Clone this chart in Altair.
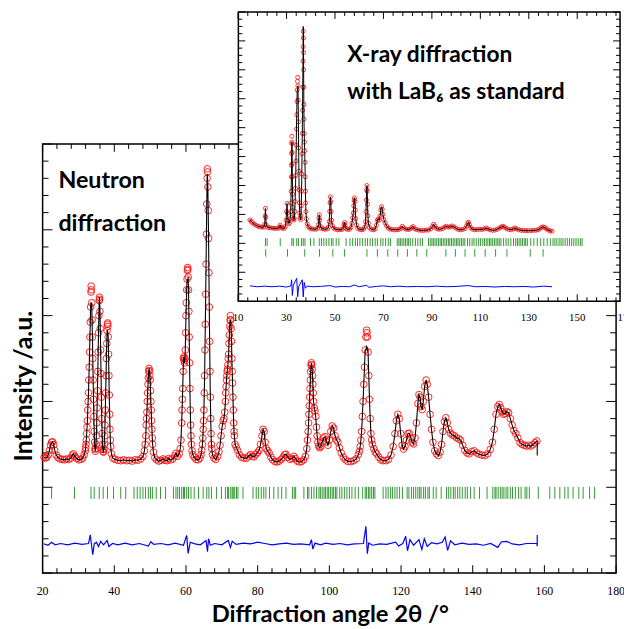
import altair as alt
import pandas as pd

# ---------------- Neutron diffraction (main panel) ----------------
neutron_obs = [
    (20.4, 27.0), (20.8, 26.8), (21.2, 27.0), (21.6, 27.6), (21.9, 28.6), (22.2, 29.8), (22.5, 30.5), (22.8, 30.6),
    (23.1, 29.9), (23.4, 28.6), (23.8, 27.5), (24.3, 26.9), (24.9, 26.6), (25.5, 26.5), (26.1, 26.4), (26.7, 26.6),
    (27.3, 26.5), (27.9, 26.8), (28.3, 27.5), (28.6, 27.8), (29.0, 27.2), (29.5, 26.7), (30.1, 26.4), (30.7, 26.5),
    (31.2, 26.8), (31.6, 27.6), (31.9, 28.5), (32.0, 29.2), (32.1, 30.0), (32.2, 31.0), (32.3, 32.5), (32.4, 34.0),
    (32.5, 35.5), (32.6, 38.0), (32.7, 40.0), (32.8, 42.0), (32.9, 45.0), (33.0, 48.0), (33.1, 51.5), (33.2, 55.0),
    (33.3, 58.5), (33.4, 62.0), (33.5, 65.5), (33.55, 66.9), (33.6, 66.0), (33.7, 63.0), (33.8, 59.0), (33.9, 55.0),
    (34.0, 50.0), (34.1, 45.0), (34.2, 40.5), (34.3, 36.5), (34.4, 33.0), (34.5, 30.5), (34.6, 29.0), (34.7, 28.4),
    (34.8, 28.9), (34.9, 30.0), (35.0, 32.0), (35.1, 35.0), (35.2, 38.5), (35.3, 42.5), (35.4, 47.0), (35.5, 51.5),
    (35.6, 56.0), (35.7, 60.0), (35.8, 63.5), (35.85, 64.3), (35.9, 63.8), (36.0, 61.0), (36.1, 57.0), (36.2, 52.0),
    (36.3, 46.5), (36.4, 41.0), (36.5, 36.0), (36.6, 32.5), (36.7, 30.0), (36.8, 28.8), (36.9, 28.3), (37.0, 28.2),
    (37.1, 28.8), (37.2, 30.0), (37.3, 32.0), (37.4, 34.5), (37.5, 38.0), (37.6, 42.0), (37.7, 46.0), (37.8, 50.0),
    (37.9, 53.5), (38.0, 56.5), (38.1, 58.0), (38.15, 58.3), (38.2, 57.5), (38.3, 55.0), (38.4, 51.0), (38.5, 46.0),
    (38.6, 41.5), (38.7, 37.0), (38.8, 33.5), (38.9, 31.0), (39.0, 29.5), (39.2, 27.8), (39.6, 26.8), (40.2, 26.5),
    (41.0, 26.3), (41.8, 26.2), (42.6, 26.4), (43.4, 26.2), (44.2, 26.3), (45.0, 26.1), (45.8, 26.4), (46.6, 26.3),
    (47.4, 26.6), (48.0, 27.2), (48.4, 28.5), (48.6, 30.0), (48.8, 32.0), (48.9, 34.5), (49.0, 36.0), (49.1, 37.5),
    (49.2, 40.0), (49.3, 42.0), (49.4, 44.0), (49.5, 45.5), (49.6, 47.0), (49.7, 47.7), (49.8, 47.2), (49.9, 46.0),
    (50.0, 45.0), (50.1, 42.5), (50.2, 40.0), (50.3, 38.0), (50.4, 35.5), (50.5, 33.5), (50.6, 31.5), (50.7, 30.0),
    (50.9, 28.2), (51.3, 26.9), (51.8, 26.4), (52.4, 26.1), (53.0, 26.3), (53.6, 26.6), (54.1, 26.3), (54.7, 26.2),
    (55.2, 26.7), (55.7, 26.4), (56.3, 26.6), (56.8, 27.3), (57.2, 27.9), (57.6, 27.2), (58.1, 27.8), (58.4, 29.0),
    (58.6, 31.0), (58.8, 35.0), (58.9, 38.0), (59.0, 40.5), (59.1, 43.0), (59.2, 47.0), (59.3, 50.0), (59.4, 50.4),
    (59.5, 49.5), (59.6, 49.0), (59.7, 50.0), (59.8, 52.0), (59.9, 56.0), (60.0, 60.0), (60.1, 63.0), (60.2, 66.0),
    (60.3, 68.5), (60.4, 70.5), (60.45, 71.2), (60.5, 70.8), (60.6, 69.0), (60.7, 66.0), (60.8, 61.0), (60.9, 55.0),
    (61.0, 49.0), (61.1, 43.0), (61.2, 38.0), (61.3, 34.5), (61.4, 32.0), (61.5, 30.0), (61.7, 28.5), (61.9, 27.6),
    (62.3, 27.0), (62.8, 26.5), (63.4, 26.4), (63.9, 26.8), (64.2, 27.6), (64.4, 28.6), (64.6, 30.0), (64.7, 31.5),
    (64.8, 33.5), (64.9, 35.5), (65.0, 38.0), (65.1, 42.0), (65.2, 46.0), (65.3, 52.0), (65.4, 58.0), (65.5, 65.0),
    (65.6, 72.0), (65.7, 79.0), (65.8, 86.0), (65.9, 92.0), (65.95, 94.2), (66.0, 93.5), (66.1, 90.0), (66.2, 84.5),
    (66.3, 78.0), (66.4, 70.0), (66.5, 62.0), (66.6, 54.0), (66.7, 47.0), (66.8, 41.0), (66.9, 36.0), (67.0, 32.5),
    (67.1, 30.0), (67.2, 29.0), (67.4, 27.6), (67.8, 26.8), (68.3, 26.5), (68.8, 27.2), (69.2, 28.3), (69.5, 29.8),
    (69.8, 32.0), (70.1, 34.2), (70.4, 35.5), (70.6, 36.0), (70.8, 37.5), (71.0, 40.0), (71.1, 42.0), (71.2, 43.5),
    (71.3, 45.0), (71.4, 46.0), (71.5, 47.0), (71.6, 47.5), (71.7, 48.5), (71.8, 50.0), (71.9, 51.0), (72.0, 53.5),
    (72.1, 55.5), (72.2, 57.5), (72.3, 59.0), (72.4, 60.0), (72.5, 59.0), (72.6, 57.0), (72.7, 54.0), (72.8, 50.0),
    (72.9, 47.0), (73.0, 44.3), (73.1, 41.0), (73.2, 38.0), (73.3, 35.0), (73.4, 33.0), (73.5, 32.0), (73.7, 30.0),
    (74.0, 29.4), (74.4, 28.6), (74.9, 27.6), (75.5, 27.0), (76.2, 26.8), (76.9, 26.8), (77.5, 27.3), (78.0, 27.6),
    (78.5, 27.2), (79.0, 27.1), (79.5, 27.7), (80.0, 28.1), (80.4, 28.6), (80.8, 30.0), (81.2, 32.0), (81.5, 33.5),
    (81.8, 33.0), (82.1, 30.5), (82.4, 29.0), (82.8, 28.5), (83.2, 28.0), (83.7, 27.0), (84.2, 26.4), (84.8, 26.0),
    (85.4, 25.9), (86.0, 26.1), (86.6, 26.5), (87.1, 27.0), (87.5, 27.6), (87.9, 27.7), (88.4, 27.0), (89.0, 26.5),
    (89.6, 26.7), (90.1, 27.2), (90.5, 26.7), (91.0, 26.1), (91.6, 25.9), (92.2, 26.0), (92.8, 26.4), (93.3, 27.2),
    (93.7, 29.0), (93.9, 31.0), (94.1, 33.0), (94.2, 35.0), (94.3, 37.0), (94.4, 39.0), (94.5, 41.0), (94.6, 43.0),
    (94.7, 45.0), (94.8, 47.0), (94.9, 48.5), (95.0, 49.0), (95.1, 48.5), (95.2, 47.5), (95.3, 46.0), (95.4, 44.0),
    (95.5, 42.0), (95.6, 40.0), (95.8, 38.5), (96.0, 37.8), (96.2, 36.5), (96.4, 34.0), (96.6, 32.0), (96.8, 30.5),
    (97.0, 29.6), (97.3, 29.2), (97.6, 29.5), (98.0, 30.5), (98.4, 31.5), (98.8, 31.8), (99.2, 30.6), (99.6, 29.8),
    (100.0, 31.0), (100.4, 33.0), (100.8, 34.3), (101.2, 33.8), (101.6, 32.0), (102.0, 31.0), (102.4, 30.5), (102.8, 29.2),
    (103.3, 28.0), (103.9, 27.0), (104.5, 26.4), (105.2, 26.0), (106.0, 26.0), (106.8, 26.2), (107.5, 26.6), (108.1, 27.6),
    (108.4, 28.4), (108.6, 29.5), (108.8, 31.0), (109.0, 33.0), (109.2, 36.5), (109.4, 40.0), (109.6, 44.0), (109.8, 48.0),
    (110.0, 52.0), (110.2, 55.0), (110.4, 56.6), (110.5, 56.0), (110.6, 55.0), (110.8, 51.5), (111.0, 46.0), (111.2, 40.5),
    (111.4, 36.0), (111.6, 32.5), (111.8, 31.0), (112.0, 30.0), (112.4, 29.0), (112.8, 28.2), (113.2, 27.8), (113.8, 27.0),
    (114.4, 26.4), (115.0, 26.2), (115.8, 26.2), (116.5, 26.5), (117.2, 27.5), (117.8, 29.5), (118.3, 32.5), (118.7, 35.5),
    (119.1, 37.0), (119.5, 36.0), (119.9, 32.5), (120.3, 29.8), (120.7, 28.9), (121.1, 29.5), (121.5, 31.0), (121.9, 32.5),
    (122.3, 32.6), (122.7, 31.5), (123.1, 30.4), (123.5, 30.1), (123.9, 31.5), (124.3, 35.0), (124.7, 39.5), (125.0, 41.6),
    (125.3, 41.0), (125.6, 38.8), (125.9, 38.1), (126.2, 40.0), (126.6, 43.5), (127.0, 45.0), (127.3, 44.0), (127.7, 41.0),
    (128.1, 37.0), (128.5, 33.5), (128.9, 30.5), (129.4, 28.5), (129.9, 27.8), (130.4, 27.4), (130.9, 28.2), (131.3, 30.0),
    (131.7, 33.0), (132.1, 35.3), (132.5, 36.2), (132.9, 35.0), (133.3, 33.5), (133.8, 32.6), (134.3, 32.2), (134.9, 32.0),
    (135.5, 31.5), (136.1, 31.3), (136.6, 31.0), (137.2, 29.8), (137.8, 28.6), (138.4, 28.0), (139.0, 27.8), (139.7, 28.3),
    (140.4, 28.5), (141.1, 28.0), (141.8, 27.7), (142.6, 27.5), (143.4, 27.4), (144.2, 27.8), (144.9, 28.8), (145.5, 30.5),
    (146.0, 33.5), (146.5, 37.0), (147.0, 38.8), (147.4, 39.3), (147.8, 38.5), (148.2, 37.6), (148.6, 37.0), (149.0, 37.2),
    (149.5, 37.6), (150.0, 37.4), (150.5, 36.0), (151.0, 34.5), (151.5, 33.2), (152.0, 32.5), (152.6, 31.5), (153.2, 30.4),
    (153.8, 30.0), (154.4, 29.8), (155.0, 29.6), (155.6, 29.8), (156.2, 29.6), (156.8, 29.9), (157.4, 30.4), (157.9, 30.8),
]
# calculated profile where it departs from the observed points (peak tops)
neutron_calc_peaks = {33.5: 63.0, 33.55: 63.1, 33.6: 62.5, 38.1: 56.5, 38.15: 56.6, 38.2: 56.0,
                      60.4: 68.0, 60.45: 68.5, 60.5: 68.2, 65.95: 93.0, 66.0: 92.8, 72.4: 59.0,
                      110.2: 52.0, 110.4: 52.8, 110.5: 52.6, 110.6: 52.0}
neutron_calc_end = [(158.0, 30.6), (158.0, 27.4)]
neutron_diff = [
    (20.4, 6.8), (21.5, 6.5), (22.5, 7.2), (23.5, 6.6), (25.0, 6.9), (27.0, 6.6), (29.0, 7.0), (31.0, 6.7),
    (32.8, 6.9), (33.3, 8.9), (33.7, 6.2), (34.0, 4.3), (34.4, 6.8), (35.0, 7.2), (35.6, 6.2), (36.2, 7.4),
    (37.0, 6.6), (38.0, 7.6), (38.5, 6.2), (39.5, 6.9), (41.0, 6.6), (43.0, 7.0), (45.0, 6.6), (47.0, 6.9),
    (49.5, 6.3), (50.2, 7.3), (51.0, 6.7), (53.0, 6.9), (55.0, 6.6), (57.0, 7.0), (59.3, 6.5), (60.2, 8.8),
    (60.6, 4.6), (61.2, 7.2), (62.5, 6.8), (64.0, 6.6), (65.6, 7.6), (66.0, 5.0), (66.3, 8.0), (66.8, 6.5),
    (68.0, 6.9), (70.0, 6.6), (71.8, 7.6), (72.4, 6.0), (72.9, 7.4), (74.0, 6.7), (76.0, 7.0), (78.0, 6.8),
    (80.0, 7.2), (82.0, 6.9), (84.0, 6.6), (86.0, 6.8), (88.0, 7.0), (90.0, 6.7), (92.0, 6.8), (94.5, 6.6),
    (95.0, 7.8), (95.4, 5.6), (96.0, 7.0), (97.5, 6.6), (99.0, 7.0), (101.0, 6.7), (103.0, 6.9), (105.0, 6.6),
    (107.0, 6.8), (109.5, 6.9), (110.2, 10.9), (110.6, 4.5), (111.0, 7.0), (112.0, 6.5), (114.0, 6.8), (116.0, 6.7),
    (118.5, 7.2), (119.3, 6.3), (120.5, 6.9), (121.3, 8.6), (121.8, 5.2), (122.5, 7.8), (123.5, 6.5), (125.0, 7.8),
    (125.8, 5.5), (126.5, 8.0), (127.3, 6.2), (128.5, 7.1), (130.0, 6.8), (131.5, 7.2), (132.3, 8.4), (133.0, 5.3),
    (133.8, 7.5), (135.0, 6.6), (137.0, 7.0), (139.0, 6.7), (141.0, 6.8), (143.0, 6.5), (145.0, 6.9), (147.0, 6.0),
    (148.0, 7.3), (149.5, 7.4), (151.0, 6.8), (153.0, 6.6), (155.0, 6.9), (157.9, 6.9), (158.0, 6.3), (158.0, 8.9),
]
neutron_reflections = [
    22.5, 28.9, 33.5, 34.4, 35.8, 36.9, 38.1, 39.8, 41.8, 43.2, 45.5, 46.4, 47.2, 48.0, 48.7, 49.5, 50.1, 50.7,
    51.7, 52.9, 54.3, 56.5, 57.2, 57.7, 58.2, 58.8, 59.3, 59.6, 60.2, 60.7, 61.4, 62.3, 63.5, 64.8, 65.8, 66.4,
    67.1, 68.5, 69.9, 71.0, 71.6, 71.9, 72.5, 72.9, 73.2, 73.6, 74.1, 74.5, 75.9, 78.7, 79.6, 80.2, 81.0, 81.7,
    82.3, 83.3, 84.5, 85.7, 86.7, 87.9, 89.7, 90.2, 90.6, 92.9, 93.9, 94.3, 95.0, 95.7, 96.4, 97.1, 97.5, 98.0,
    98.5, 98.9, 99.4, 99.8, 100.3, 100.8, 101.2, 101.7, 102.1, 102.9, 103.5, 104.2, 104.9, 105.6, 106.3, 107.2,
    108.1, 109.3, 110.0, 110.4, 110.9, 111.3, 111.8, 112.3, 112.7, 115.0, 115.8, 116.4, 117.1, 117.6, 118.3,
    118.9, 119.6, 120.4, 121.7, 122.2, 122.9, 123.5, 124.1, 124.7, 125.2, 125.6, 126.3, 126.8, 127.5, 127.9,
    129.0, 129.8, 131.2, 132.7, 133.3, 133.9, 134.6, 135.1, 135.8, 136.4, 137.1, 137.9, 138.5, 139.4, 140.4,
    141.9, 144.0, 145.6, 146.2, 146.5, 147.1, 147.7, 148.2, 148.7, 149.3, 149.8, 150.5, 151.1, 151.9, 152.8,
    153.5, 154.6, 155.1, 155.8, 158.3, 161.5, 162.9, 164.3, 165.7, 166.6, 168.0, 169.6, 170.8, 172.6, 174.0,
]
neutron_tick_labels = [20, 40, 60, 80, 100, 120, 140, 160, 180]

# ---------------- X-ray diffraction (inset) ----------------
xray_obs = [
    (14.9, 28.1), (15.4, 27.6), (16.0, 27.1), (16.7, 26.6), (17.5, 26.2), (18.3, 25.9), (19.1, 25.7), (19.9, 25.6),
    (20.6, 25.6), (21.0, 26.6), (21.15, 29.5), (21.3, 32.1), (21.45, 29.0), (21.6, 26.3), (22.2, 25.5), (23.0, 25.4),
    (23.9, 25.3), (24.8, 25.2), (25.7, 25.2), (26.6, 25.2), (27.2, 25.6), (27.4, 26.3), (27.6, 25.6), (28.3, 25.2),
    (29.0, 25.2), (29.5, 25.8), (29.8, 28.0), (30.0, 31.0), (30.2, 33.8), (30.4, 30.5), (30.6, 28.0), (30.9, 26.8),
    (31.2, 27.0), (31.5, 28.5), (31.7, 31.0), (31.8, 34.0), (31.9, 38.0), (32.0, 43.0), (32.05, 47.0), (32.1, 51.0),
    (32.15, 54.5), (32.2, 57.0), (32.25, 55.0), (32.3, 51.5), (32.35, 47.5), (32.4, 43.0), (32.5, 37.0), (32.6, 32.5),
    (32.7, 30.0), (32.85, 28.5), (33.0, 28.0), (33.2, 28.6), (33.4, 31.0), (33.55, 34.5), (33.7, 39.0), (33.8, 43.5),
    (33.9, 48.5), (34.0, 54.0), (34.1, 59.5), (34.2, 64.5), (34.3, 69.0), (34.4, 73.0), (34.5, 76.0), (34.6, 77.4),
    (34.7, 74.5), (34.8, 69.5), (34.9, 62.0), (35.0, 53.0), (35.1, 45.0), (35.2, 38.5), (35.3, 34.0), (35.45, 30.5),
    (35.6, 28.8), (35.8, 28.2), (35.95, 29.5), (36.1, 33.0), (36.2, 38.0), (36.3, 44.0), (36.4, 51.0), (36.5, 58.0),
    (36.6, 66.0), (36.7, 74.0), (36.8, 83.0), (36.85, 88.0), (36.9, 93.3), (36.95, 91.0), (37.0, 86.0), (37.05, 80.0),
    (37.1, 74.0), (37.15, 68.0), (37.2, 63.0), (37.3, 58.0), (37.4, 55.0), (37.5, 52.0), (37.6, 48.0), (37.7, 43.0),
    (37.8, 38.0), (37.9, 34.0), (38.0, 31.0), (38.2, 28.5), (38.5, 26.8), (38.9, 25.8), (39.5, 25.3), (40.3, 25.0),
    (41.2, 24.9), (42.1, 24.9), (42.8, 25.2), (43.2, 26.5), (43.4, 28.8), (43.55, 29.9), (43.7, 28.0), (43.9, 26.0),
    (44.4, 25.2), (45.2, 25.0), (46.0, 24.9), (46.8, 25.0), (47.3, 25.6), (47.6, 27.5), (47.8, 31.0), (47.95, 34.0),
    (48.1, 36.1), (48.25, 34.5), (48.4, 31.0), (48.6, 28.0), (48.9, 26.2), (49.4, 25.3), (50.2, 24.9), (51.1, 24.7),
    (52.0, 24.7), (52.9, 24.8), (53.5, 25.3), (53.8, 26.6), (53.95, 27.2), (54.15, 26.3), (54.5, 25.2), (55.2, 24.8),
    (56.0, 24.9), (56.6, 25.5), (57.0, 27.0), (57.3, 28.8), (57.55, 30.5), (57.75, 33.0), (57.9, 35.0), (58.05, 35.7),
    (58.2, 34.5), (58.4, 31.5), (58.6, 28.5), (58.9, 26.4), (59.4, 25.2), (60.2, 24.8), (61.0, 24.7), (61.8, 24.9),
    (62.3, 25.6), (62.6, 27.5), (62.8, 31.0), (62.95, 35.0), (63.1, 38.5), (63.2, 40.0), (63.3, 38.0), (63.45, 33.5),
    (63.6, 29.5), (63.8, 27.0), (64.2, 25.5), (65.0, 24.9), (65.9, 24.7), (66.6, 25.0), (67.1, 26.3), (67.5, 28.0),
    (67.8, 28.4), (68.2, 28.0), (68.6, 29.5), (68.9, 31.5), (69.2, 32.7), (69.5, 31.8), (69.8, 30.0), (70.2, 28.2),
    (70.7, 27.0), (71.3, 26.0), (72.0, 25.3), (72.8, 24.9), (73.7, 24.8), (74.6, 24.7), (75.5, 24.7), (76.4, 24.8),
    (77.2, 25.2), (77.8, 25.9), (78.4, 25.3), (79.2, 24.9), (80.1, 24.8), (80.9, 24.9), (81.6, 25.4), (82.2, 25.8),
    (82.8, 25.1), (83.6, 24.8), (84.6, 24.6), (85.6, 24.5), (86.6, 24.5), (87.6, 24.6), (88.6, 24.6), (89.5, 25.0),
    (90.2, 25.8), (90.7, 26.6), (91.2, 26.0), (91.8, 25.2), (92.6, 24.9), (93.5, 24.9), (94.4, 25.1), (95.2, 25.6),
    (96.0, 25.9), (96.8, 25.6), (97.6, 25.7), (98.4, 26.0), (99.2, 25.7), (100.0, 25.2), (100.9, 24.8), (101.8, 24.7),
    (102.7, 24.8), (103.6, 25.1), (104.3, 26.0), (104.8, 27.0), (105.1, 27.3), (105.5, 26.4), (106.0, 25.4), (106.8, 24.9),
    (107.7, 24.7), (108.7, 24.8), (109.7, 24.9), (110.7, 24.8), (111.7, 25.0), (112.4, 25.3), (113.1, 25.0), (114.0, 24.7),
    (115.0, 24.5), (116.0, 24.6), (117.0, 24.9), (117.9, 25.3), (118.7, 25.7), (119.3, 25.9), (120.0, 25.6), (120.8, 25.1),
    (121.7, 24.8), (122.7, 24.7), (123.6, 25.0), (124.2, 25.3), (124.9, 25.0), (125.8, 24.7), (126.8, 24.5), (127.8, 24.5),
    (128.8, 24.4), (129.8, 24.4), (130.8, 24.4), (131.8, 24.5), (132.8, 24.5), (133.7, 24.7), (134.5, 25.0), (135.2, 25.5),
    (135.9, 25.7), (136.6, 25.5), (137.3, 25.0), (138.1, 24.6), (138.9, 24.3), (139.6, 24.2),
]
xray_calc_peaks = {32.15: 52.5, 32.2: 53.5, 34.5: 73.0, 34.6: 74.0, 36.9: 95.0}
xray_diff = [
    (14.9, 5.3), (18.0, 5.0), (21.0, 5.2), (24.0, 5.0), (27.0, 5.2), (30.0, 4.9), (31.8, 5.3), (32.1, 7.4),
    (32.4, 2.0), (32.8, 5.5), (34.2, 7.9), (34.6, 1.5), (35.0, 5.0), (36.5, 7.4), (36.9, 1.5), (37.3, 6.5),
    (37.8, 4.5), (38.5, 5.2), (41.0, 5.0), (44.0, 5.1), (48.0, 5.4), (50.0, 4.9), (53.0, 5.1), (56.0, 5.0),
    (58.0, 5.6), (60.0, 5.0), (63.0, 5.5), (64.0, 4.8), (67.0, 5.1), (70.0, 5.3), (73.0, 5.0), (76.0, 5.2),
    (80.0, 5.0), (84.0, 5.1), (88.0, 5.0), (92.0, 5.2), (96.0, 5.0), (100.0, 5.1), (105.0, 5.4), (108.0, 5.0),
    (112.0, 5.1), (116.0, 4.9), (120.0, 5.1), (124.0, 5.0), (128.0, 5.1), (132.0, 4.9), (136.0, 5.2), (139.6, 5.0),
]
xray_reflections_sample = [
    21.3, 22.0, 27.4, 32.2, 32.8, 34.2, 34.9, 36.2, 36.9, 37.6, 39.9, 41.3, 43.5, 44.4, 45.4, 46.4, 47.5, 48.5,
    49.2, 50.5, 51.6, 54.6, 56.2, 57.3, 58.4, 59.3, 60.3, 61.4, 62.5, 63.4, 64.5, 65.5, 66.6, 67.5, 68.9, 69.8,
    70.9, 72.0, 72.9, 75.7, 76.4, 77.0, 77.7, 78.4, 79.1, 79.8, 80.4, 81.1, 82.1, 83.2, 84.2, 85.2, 86.1, 88.6,
    89.3, 90.0, 90.6, 91.3, 92.0, 92.7, 93.4, 94.0, 94.7, 95.4, 96.1, 96.8, 97.4, 98.1, 98.8, 99.5, 100.2, 100.8,
    101.5, 102.2, 102.9, 103.6, 104.7, 105.6, 106.6, 107.4, 108.3, 109.3, 110.1, 111.0, 111.7, 112.4, 113.1,
    113.8, 114.4, 115.1, 115.8, 116.5, 117.2, 117.8, 118.5, 119.6, 120.6, 121.5, 122.6, 123.7, 124.6, 125.3,
    126.0, 126.7, 127.4, 128.1, 128.7, 129.4, 130.8, 132.1, 133.5, 134.9, 136.2, 137.6, 138.9, 140.0, 140.8,
    141.6, 142.5, 143.3, 144.1, 145.0, 145.9, 146.8, 147.7, 148.6, 149.5, 150.4, 151.3, 152.0,
]
xray_reflections_lab6 = [
    21.4, 30.4, 37.5, 43.6, 49.1, 53.9, 63.2, 67.5, 71.8, 75.9, 79.9, 83.8, 87.9, 95.8, 99.7, 103.7,
    107.7, 112.0, 116.3, 121.0, 130.6, 135.9,
]
xray_tick_labels = [10, 30, 50, 70, 90, 110, 130, 150, 170]

# ---------------- layout / style ----------------
W, H = 580, 434
RED = "#ff1010"
GREEN = "#007c00"
BLUE = "#0000ff"
SANS = "Lato"
SERIF = "Liberation Serif"

MX_DOM, MY_DOM = [20, 180], [0, 100]
# inset frame (in view pixels)
IL, IR, IT, IB = 198, 584, -133.5, 159
IX_DOM, IX_RANGE = [10, 170], [197.7, 589.7]
IY_DOM, IY_RANGE = [0, 100], [IB, IT]


def mx():
    return alt.Scale(domain=MX_DOM, range=[0, W], nice=False, zero=False)


def my():
    return alt.Scale(domain=MY_DOM, range=[H, 0], nice=False, zero=False)


def ix():
    return alt.Scale(domain=IX_DOM, range=IX_RANGE, nice=False, zero=False)


def iy():
    return alt.Scale(domain=IY_DOM, range=IY_RANGE, nice=False, zero=False)


def frame(pairs):
    return pd.DataFrame({"x": [p[0] for p in pairs], "y": [p[1] for p in pairs], "i": list(range(len(pairs)))})


def vals(v):
    return pd.DataFrame({"v": v})


def ticks_x(scale, values, y0, y1):
    return alt.Chart(vals(values)).mark_rule(color="black", strokeWidth=1).encode(
        x=alt.X("v:Q", scale=scale(), axis=None), y=alt.value(y0), y2=alt.value(y1))


def ticks_y(scale, values, x0, x1):
    return alt.Chart(vals(values)).mark_rule(color="black", strokeWidth=1).encode(
        y=alt.Y("v:Q", scale=scale(), axis=None), x=alt.value(x0), x2=alt.value(x1))


def text_at(txt, x, y, size, weight="bold", font=SANS, angle=0, align="left", baseline="alphabetic"):
    return alt.Chart(pd.DataFrame({"t": [txt]})).mark_text(
        font=font, fontSize=size, fontWeight=weight, align=align, baseline=baseline, angle=angle, color="black"
    ).encode(text="t:N", x=alt.value(x), y=alt.value(y))


def profile_points(df, xs, ys, size, sw):
    return alt.Chart(df).mark_point(shape="circle", filled=False, color=RED, size=size, strokeWidth=sw, opacity=0.9).encode(
        x=alt.X("x:Q", scale=xs(), axis=None), y=alt.Y("y:Q", scale=ys(), axis=None))


def profile_line(df, xs, ys, color, sw):
    return alt.Chart(df).mark_line(color=color, strokeWidth=sw).encode(
        x=alt.X("x:Q", scale=xs(), axis=None), y=alt.Y("y:Q", scale=ys(), axis=None), order="i:Q")


def refl_rule(xvals, xs, ys, lo, hi):
    return alt.Chart(pd.DataFrame({"x": xvals})).mark_rule(color=GREEN, strokeWidth=1, opacity=0.8).encode(
        x=alt.X("x:Q", scale=xs(), axis=None),
        y=alt.YDatum(lo, scale=ys(), axis=None),
        y2=alt.datum(hi))


def labels(values, xs, y, size):
    return alt.Chart(pd.DataFrame({"v": values, "t": [str(v) for v in values]})).mark_text(
        font=SERIF, fontSize=size, color="black", baseline="middle", align="center").encode(
        x=alt.X("v:Q", scale=xs(), axis=None), y=alt.value(y), text="t:N")


# ---- main panel ----
n_obs_df = frame(neutron_obs)
n_calc_df = frame([(x, neutron_calc_peaks.get(x, y)) for x, y in neutron_obs] + neutron_calc_end)
n_diff_df = frame(neutron_diff)

main_major_x = list(range(20, 181, 20))
main_minor_x = [v for v in range(20, 181, 4) if v not in main_major_x]
main_major_y = list(range(0, 101, 20))
main_minor_y = [v for v in range(0, 101, 4) if v not in main_major_y]

main_layers = [
    ticks_x(mx, main_major_x, H, H - 8), ticks_x(mx, main_minor_x, H, H - 5),
    ticks_x(mx, main_major_x, 0, 8), ticks_x(mx, main_minor_x, 0, 5),
    ticks_y(my, main_major_y, 0, 10), ticks_y(my, main_minor_y, 0, 6),
    ticks_y(my, main_major_y, W, W - 10), ticks_y(my, main_minor_y, W, W - 6),
    refl_rule(neutron_reflections, mx, my, 17.3, 20.1),
    profile_line(n_diff_df, mx, my, BLUE, 1.2),
    profile_points(n_obs_df, mx, my, 46, 1.0),
    profile_line(n_calc_df, mx, my, "black", 1.1),
    labels(neutron_tick_labels, mx, 452, 12),
    text_at("Neutron", 16, 44.5, 23.5),
    text_at("diffraction", 16, 88, 23.5),
    text_at("Diffraction angle 2θ /°", 291, 483, 24, align="center"),
    text_at("Intensity /a.u.", -19, 245, 25, angle=270, align="center", baseline="middle"),
]

# ---- inset ----
x_obs_df = frame(xray_obs)
x_calc_df = frame([(x, xray_calc_peaks.get(x, y)) for x, y in xray_obs])
x_diff_df = frame(xray_diff)

ins_major_x = list(range(10, 166, 20))
ins_minor_x = [v for v in range(10, 167, 4) if v not in ins_major_x]
ins_major_y = list(range(0, 101, 10))
ins_minor_y = [v * 2.5 for v in range(0, 41) if (v * 2.5) not in ins_major_y]

i_box = alt.Chart(pd.DataFrame({"a": [0]})).mark_rect(fill="white", stroke="black", strokeWidth=1.5).encode(
    x=alt.value(IL), x2=alt.value(IR), y=alt.value(IT), y2=alt.value(IB))

inset_layers = [
    i_box,
    ticks_x(ix, ins_major_x, IB, IB - 7), ticks_x(ix, ins_minor_x, IB, IB - 4),
    ticks_x(ix, ins_major_x, IT, IT + 7), ticks_x(ix, ins_minor_x, IT, IT + 4),
    ticks_y(iy, ins_major_y, IL, IL + 7), ticks_y(iy, ins_minor_y, IL, IL + 4),
    ticks_y(iy, ins_major_y, IR, IR - 7), ticks_y(iy, ins_minor_y, IR, IR - 4),
    refl_rule(xray_reflections_sample, ix, iy, 19.1, 21.8),
    refl_rule(xray_reflections_lab6, ix, iy, 15.4, 18.0),
    profile_line(x_diff_df, ix, iy, BLUE, 1.0),
    profile_points(x_obs_df, ix, iy, 17, 0.9),
    profile_line(x_calc_df, ix, iy, "black", 1.0),
    labels(xray_tick_labels, ix, 176, 11),
    text_at("X-ray diffraction", 308, -83, 23),
    text_at("with LaB₆ as standard", 308, -46, 23),
]

chart = alt.layer(*(main_layers + inset_layers)).resolve_scale(
    x="independent", y="independent").properties(
    width=W, height=H,
    autosize=alt.AutoSizeParams(type="none"),
    padding={"left": 35, "top": 134, "right": 8, "bottom": 53},
    background="white",
).configure_view(stroke="black", strokeWidth=1.5)

chart.save("out.html", embed_options={"renderer": "svg", "actions": False})
